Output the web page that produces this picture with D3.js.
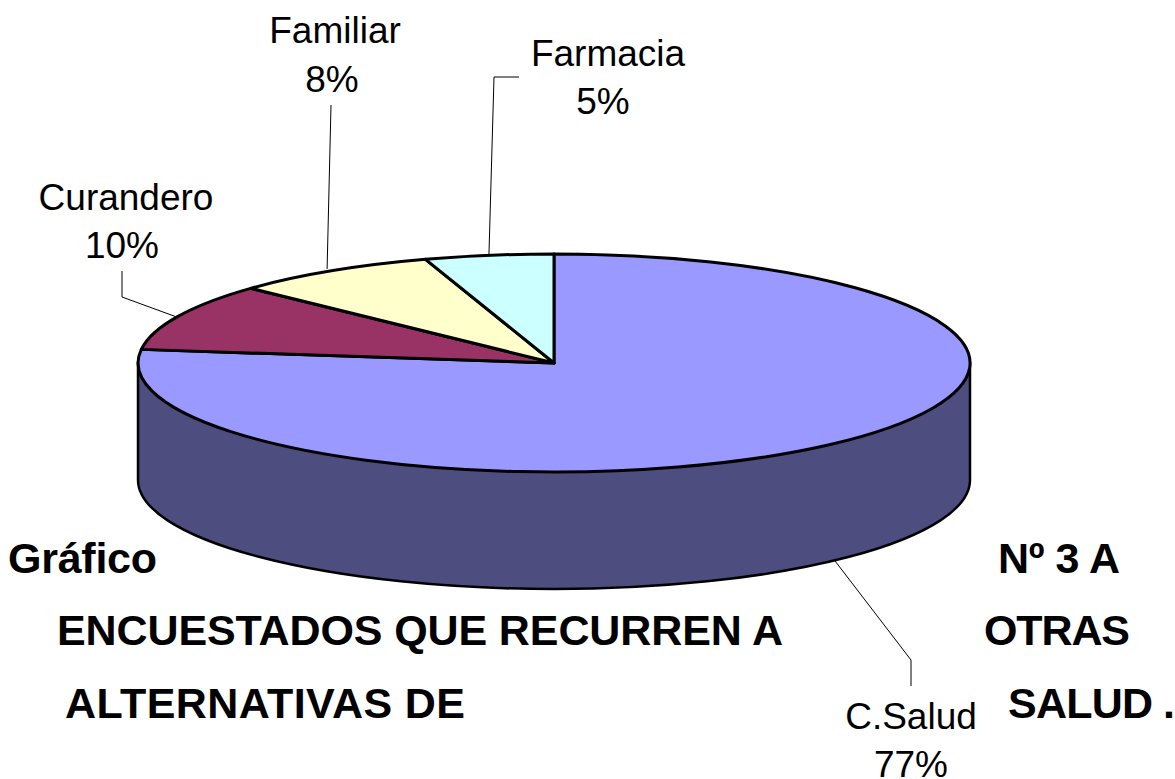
<!DOCTYPE html>
<html><head><meta charset="utf-8">
<script src="https://cdnjs.cloudflare.com/ajax/libs/d3/7.8.5/d3.min.js"></script>
<style>html,body{margin:0;padding:0;background:#fff}svg{display:block}text{font-family:"Liberation Sans",Arial,sans-serif;fill:#000}</style>
</head><body><svg id="c" width="1175" height="779"></svg>
<script>
const categories = ["C.Salud","Curandero","Familiar","Farmacia"];
const values = [77,10,8,5];
const sliceColors = ["#9999ff","#993366","#ffffcc","#ccffff"];
const titleLines = ["Gráfico","Nº 3 A","ENCUESTADOS QUE RECURREN A","OTRAS","ALTERNATIVAS DE","SALUD","."];
const titleX = [8,998,57,984,65,1008,1163];
const titleY = [573,573,645,645,718,718,718];
const titleWidth = [149,122,726,146,400,145,12];
const W=1175,H=779,cx=554,cy=363,rx=416,ry=109,depth=117;
const labelLayout = {
  "C.Salud":  {x:[911,911],y:[729,777],nudge:[5,-2],elbow:[[911,660],[911,686]],fs:37},
  "Curandero":{x:[126,122],y:[210,258],nudge:[-2,0],elbow:[[122,297],[122,271]],fs:37},
  "Familiar":{x:[335,332],y:[43,92],nudge:[-4,-2],elbow:[[331,105]],fs:37},
  "Farmacia":{x:[608,603],y:[66,114],nudge:[0,0],elbow:[[494,77],[519,77]],fs:37}
};
const svg=d3.select("#c");
const sx=d3.scaleLinear().domain([-1,1]).range([cx-rx,cx+rx]);
const sy=d3.scaleLinear().domain([-1,1]).range([cy-ry,cy+ry]);
const pie=d3.pie().sort(null)(values);
const arc=d3.arc().innerRadius(0).outerRadius(1);
// wall
const A=`A${rx},${ry} 0 0 0`;
svg.append("path")
  .attr("d",`M${sx(-1)},${sy(0)}L${sx(-1)},${sy(0)+depth}${A} ${sx(1)},${sy(0)+depth}L${sx(1)},${sy(0)}Z`)
  .attr("fill","#4d4d80").attr("stroke","#000").attr("stroke-width",2.5);
// top
svg.append("g").attr("transform",`translate(${cx},${cy}) scale(${rx},${ry})`)
  .selectAll("path").data(pie).join("path")
  .attr("d",arc).attr("fill",(d,i)=>sliceColors[i])
  .attr("stroke","#000").attr("stroke-width",3)
  .attr("stroke-linejoin","round")
  .attr("vector-effect","non-scaling-stroke");
// leaders
pie.forEach((d,i)=>{
  const m=(d.startAngle+d.endAngle)/2;
  const l=labelLayout[categories[i]];
  const ax=sx(Math.sin(m))+l.nudge[0], ay=sy(-Math.cos(m))+(Math.cos(m)<0?depth:0)+l.nudge[1];
  svg.append("path").attr("d",d3.line()([[ax,ay],...l.elbow]))
    .attr("fill","none").attr("stroke","#000").attr("stroke-width",1);
  const t=svg.append("g").attr("text-anchor","middle").attr("font-size",l.fs);
  t.append("text").attr("x",l.x[0]).attr("y",l.y[0]).text(categories[i]);
  t.append("text").attr("x",l.x[1]).attr("y",l.y[1]).text(values[i]+"%");
});
svg.append("g").attr("font-weight","bold").attr("font-size",43)
  .selectAll("text").data(titleLines).join("text")
  .attr("x",(d,i)=>titleX[i]).attr("y",(d,i)=>titleY[i])
  .attr("textLength",(d,i)=>titleWidth[i]).attr("lengthAdjust","spacing")
  .text(d=>d);
</script></body></html>
